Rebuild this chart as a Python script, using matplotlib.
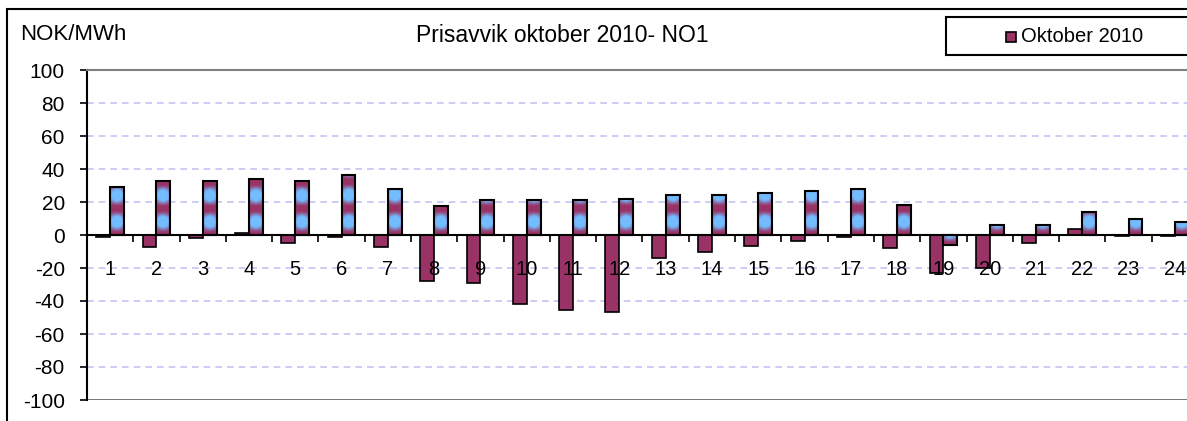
import matplotlib.pyplot as plt
import numpy as np
from matplotlib.patches import Rectangle

plt.rcParams['font.family'] = ['Liberation Sans', 'DejaVu Sans']

hours = [str(h) for h in range(1, 25)]
oktober_2010 = [-1, -7, -2, 1.5, -4.7, -1, -7, -27.6, -28.8, -41.7, -45.6, -46.8,
                -14, -10.6, -6.8, -3.4, -1, -8, -22.8, -20, -4.6, 3.8, -0.5, -0.5]
avvik = [28.9, 32.7, 32.7, 33.9, 32.7, 36.4, 28, 17.3, 21, 21, 21, 22,
         24.4, 24.4, 25.6, 26.7, 27.9, 18.4, -6, 6.2, 6.2, 13.7, 9.9, 7.7]
yticks = list(range(-100, 101, 20))

maroon = '#993366'
blue = np.array([0.45, 0.74, 1.0])
mar = np.array([0.60, 0.20, 0.40])

W, H = 1187, 421
fig = plt.figure(figsize=(W / 100, H / 100), dpi=100)
ax = fig.add_axes([87 / W, (H - 400) / H, 1111 / W, 330 / H])

x = np.arange(len(hours))
bw = 0.3
bars1 = ax.bar(x - bw / 2, oktober_2010, bw, color=maroon, edgecolor='black',
               linewidth=1.2, zorder=1.5, label='Oktober 2010')
bars2 = ax.bar(x + bw / 2, avvik, bw, color='none', edgecolor='black',
               linewidth=1.5, zorder=1.8)

# gradient fill for the second series (Excel picture fill look)
u = np.linspace(0, 1, 40)
for b in bars2:
    x0, y0 = b.get_x(), b.get_y()
    w, h = b.get_width(), b.get_height()
    y_lo, y_hi = min(y0, y0 + h), max(y0, y0 + h)
    n = max(int(abs(h) * 4), 4)
    v = np.linspace(y_lo, y_hi, n)
    hw = np.clip(1 - np.abs(u - 0.5) * 1.7, 0, 1) ** 0.5
    vw = 0.45 + 0.55 * np.cos(2 * np.pi * (v - y_lo - 8) / 16.0)
    wgt = np.clip(np.outer(vw, hw) * 1.7, 0, 1)[..., None]
    img = mar * (1 - wgt) + blue * wgt
    im = ax.imshow(img, extent=[x0, x0 + w, y_lo, y_hi], origin='lower',
                   aspect='auto', zorder=1.6, interpolation='bilinear')
    im.set_clip_path(b)

ax.set_xlim(-0.5, len(hours) - 0.5)
ax.set_ylim(-100, 100)
ax.set_yticks(yticks)
ax.set_yticklabels([str(t) for t in yticks], fontsize=15)
ax.tick_params(axis='y', length=5, width=1.2, pad=11, direction='out')

for t in yticks[1:-1]:
    if t != 0:
        ax.axhline(t, color='#c4c4f4', lw=1.2, ls=(0, (4, 3)), zorder=0.5)
ax.axhline(-100, color='#606060', lw=1.2, zorder=0.5)

ax.spines['bottom'].set_position(('data', 0))
ax.spines['bottom'].set_linewidth(1.5)
ax.spines['left'].set_linewidth(1.5)
ax.spines['top'].set_color('#808080')
ax.spines['top'].set_linewidth(1.5)
ax.spines['right'].set_visible(False)
ax.xaxis.set_zorder(3)

ax.set_xticks(x)
ax.set_xticklabels(hours, fontsize=14.5)
ax.set_xticks(np.arange(len(hours) + 1) - 0.5, minor=True)
ax.tick_params(axis='x', which='major', length=0, pad=18)
ax.tick_params(axis='x', which='minor', length=5, width=1.2, direction='out')

fig.text(562 / W, 1 - 35 / H, 'Prisavvik oktober 2010- NO1', ha='center',
         va='center', fontsize=16.5)
fig.text(20 / W, 1 - 35 / H, 'NOK/MWh', ha='left', va='center', fontsize=16)

# outer chart border
fig.add_artist(Rectangle((7 / W, -0.1), 1.2, 1.1 - 9 / H, transform=fig.transFigure,
                         fill=False, edgecolor='black', lw=1.5))

# legend box
fig.add_artist(Rectangle((946 / W, 1 - 55 / H), 0.3, 38 / H, transform=fig.transFigure,
                         facecolor='white', edgecolor='black', lw=1.5))
fig.add_artist(Rectangle((1006 / W, 1 - 42 / H), 10 / W, 10 / H, transform=fig.transFigure,
                         facecolor=maroon, edgecolor='black', lw=1.2))
fig.text(1021 / W, 1 - 36 / H, bars1.get_label(), ha='left', va='center', fontsize=14.5)

fig.savefig('out.png', dpi=100)
